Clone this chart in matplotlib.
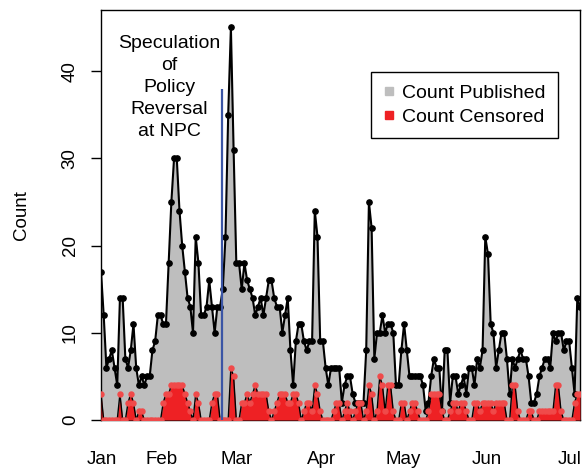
import numpy as np
import matplotlib
matplotlib.use("Agg")
import matplotlib.pyplot as plt
from matplotlib.lines import Line2D

plt.rcParams['font.family'] = ['Liberation Sans', 'DejaVu Sans']

# daily counts (day 0 = first day shown in January)
published = [17, 12, 6, 7, 8, 6, 4, 14, 14, 7, 6, 8, 11, 6, 4, 5, 4, 5, 5, 8,
             9, 12, 12, 11, 11, 18, 25, 30, 30, 24, 20, 17, 14, 13, 10, 21, 18, 12, 12, 13,
             16, 13, 10, 13, 13, 15, 21, 35, 45, 31, 18, 18, 15, 18, 16, 15, 14, 12, 13, 14,
             12, 14, 16, 16, 14, 13, 13, 10, 12, 14, 8, 4, 9, 11, 11, 9, 8, 9, 9, 24,
             21, 9, 9, 6, 4, 6, 6, 6, 6, 2, 4, 5, 5, 3, 2, 2, 2, 2, 8, 25,
             22, 7, 10, 10, 12, 10, 11, 11, 10, 4, 4, 8, 11, 8, 5, 5, 5, 5, 5, 4,
             1, 2, 5, 7, 6, 6, 1, 8, 8, 2, 5, 5, 3, 4, 5, 3, 6, 6, 4, 7,
             6, 8, 21, 19, 11, 10, 6, 8, 10, 10, 7, 3, 7, 6, 7, 8, 7, 7, 5, 2,
             2, 3, 5, 6, 7, 7, 6, 10, 9, 10, 10, 8, 9, 9, 6, 3, 14, 13]

censored = [3, 0, 0, 0, 0, 0, 0, 3, 0, 0, 2, 3, 2, 0, 1, 1, 0, 0, 0, 0,
            0, 0, 0, 2, 3, 3, 4, 4, 4, 4, 4, 3, 2, 1, 0, 3, 2, 0, 0, 0,
            0, 2, 3, 3, 0, 0, 0, 0, 6, 5, 0, 0, 2, 2, 3, 2, 3, 4, 3, 3,
            3, 3, 1, 0, 1, 2, 3, 3, 3, 2, 2, 3, 3, 2, 0, 1, 2, 2, 1, 4,
            3, 1, 0, 0, 0, 0, 1, 2, 2, 0, 1, 2, 1, 0, 1, 2, 2, 0, 1, 4,
            3, 0, 1, 5, 4, 1, 4, 4, 1, 0, 0, 2, 2, 0, 1, 2, 2, 1, 0, 0,
            0, 1, 3, 3, 3, 3, 1, 0, 0, 1, 2, 2, 1, 2, 2, 1, 0, 0, 2, 2,
            1, 2, 2, 2, 2, 1, 2, 2, 2, 2, 0, 0, 4, 4, 1, 0, 0, 0, 1, 1,
            0, 0, 1, 1, 1, 1, 1, 1, 4, 4, 1, 0, 0, 0, 0, 2, 3, 3]

month_labels = ['Jan', 'Feb', 'Mar', 'Apr', 'May', 'Jun', 'Jul']
month_pos = [0.5, 22.4, 50.1, 81.6, 111.5, 142.6, 173.3]

npc_day = 44.8
npc_top = 38
npc_text = "Speculation\nof\nPolicy\nReversal\nat NPC"

days = np.arange(len(published))

fig = plt.figure(figsize=(5.83, 4.69), dpi=100)
ax = fig.add_axes([101 / 583, 1 - 420 / 469, 479 / 583, 410 / 469])

ax.fill_between(days, 0, published, color='#BEBEBE', linewidth=0)
ax.plot(days, published, color='black', lw=1.5, marker='o', ms=3.8, zorder=3)

ax.fill_between(days, 0, censored, color='#EE2124', linewidth=0, zorder=4)
ax.plot(days, censored, color='black', lw=1.0, zorder=5)
ax.plot(days, censored, ls='none', marker='o', ms=3.6, color='#F04A4A', zorder=6)

ax.vlines(npc_day, 0, npc_top, color='#3B55A5', lw=1.6, zorder=7)
ax.text(npc_day - 19.5, 38.1, npc_text, ha='center', va='center', fontsize=14,
        linespacing=1.38)

ax.set_xlim(0, len(published) - 1)
ax.set_ylim(0, 47)
ax.set_xticks(month_pos)
ax.set_xticklabels(month_labels, fontsize=13.5)
ax.tick_params(axis='x', length=0, pad=22)
ax.set_yticks([0, 10, 20, 30, 40])
ax.tick_params(axis='y', length=7, width=1, pad=9, labelsize=13.5)
plt.setp(ax.get_yticklabels(), rotation=90, va='center')
ax.set_ylabel('Count', fontsize=13.5, labelpad=23)
for s in ax.spines.values():
    s.set_linewidth(1)

handles = [Line2D([], [], ls='none', marker='s', ms=6, color='#BEBEBE'),
           Line2D([], [], ls='none', marker='s', ms=6, color='#EE2124')]
leg = ax.legend(handles, ['Count Published', 'Count Censored'], loc='upper left',
                bbox_to_anchor=(0.564, 0.849), fontsize=14, fancybox=False,
                edgecolor='black', handlelength=0.5, handleheight=0.7,
                handletextpad=0.45, borderpad=0.65, labelspacing=0.3,
                borderaxespad=0, framealpha=1)
leg.get_frame().set_linewidth(1)

fig.savefig('out.png', dpi=100)
